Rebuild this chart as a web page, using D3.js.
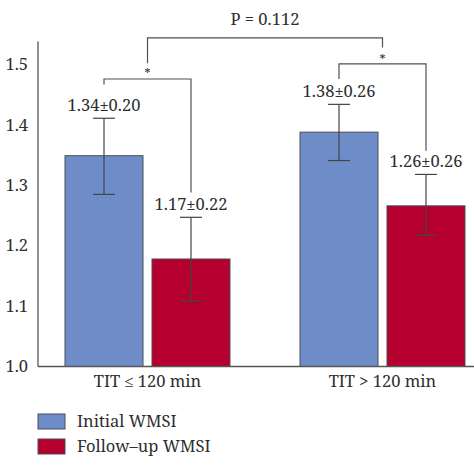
<!DOCTYPE html>
<html><head><meta charset="utf-8">
<script src="https://cdn.jsdelivr.net/npm/d3@7"></script>
<style>
html,body{margin:0;padding:0;background:#fff;}
svg{display:block;}
</style></head>
<body>
<script>
// ---- data ----
const categories = ["TIT \u2264 120 min", "TIT > 120 min"];
const series = ["Initial WMSI", "Follow\u2013up WMSI"];
const colors = ["#6e8dc8", "#b5002f"];
const initialValues = [1.349, 1.388];
const followValues = [1.178, 1.266];
const initialErrLow = [1.285, 1.341];
const initialErrHigh = [1.411, 1.434];
const followErrLow = [1.109, 1.217];
const followErrHigh = [1.247, 1.318];
const initialLabels = ["1.34\u00b10.20", "1.38\u00b10.26"];
const followLabels = ["1.17\u00b10.22", "1.26\u00b10.26"];
const yTicks = [1.0, 1.1, 1.2, 1.3, 1.4, 1.5];
const yTickLabels = ["1.0", "1.1", "1.2", "1.3", "1.4", "1.5"];
const yAxisTop = 1.538;
// significance brackets (values on the y scale)
const innerLevel = [1.476, 1.501];
const innerLeftEnd = [1.467, 1.476];
const innerRightEnd = [1.288, 1.357];
const innerStar = [1.490, 1.513];
const outerLevel = 1.544;
const outerEnds = [1.502, 1.528];
const outerLabel = "P = 0.112";
const outerLabelLevel = 1.566;

const FONT = '"Noto Serif","Liberation Serif","DejaVu Serif",serif';
const FS = "16.5px";
const TXT = "#2e2e2e";

const W = 474, H = 474;
const svg = d3.select("body").append("svg").attr("width", W).attr("height", H)
  .style("font-family", FONT);

const y = d3.scaleLinear().domain([1.0, 1.5]).range([366.5, 64.5]);
const x0 = d3.scaleBand().domain(categories).range([30, 500]).paddingInner(0.298).paddingOuter(0.149);
const x1 = d3.scaleBand().domain(series).range([0, x0.bandwidth()]).paddingInner(0.1034);

const axisX = 38;
const lineCol = "#505050";

function label(sel) {
  return sel.style("font-family", FONT).style("font-size", FS).attr("fill", TXT);
}

// y axis
svg.append("line").attr("x1", axisX).attr("x2", axisX).attr("y1", y(1.0)).attr("y2", y(yAxisTop))
  .attr("stroke", "#555").attr("stroke-width", 1.3);
const yAxis = d3.axisLeft(y).tickValues(yTicks).tickFormat((d, i) => yTickLabels[i]).tickSize(0).tickPadding(10);
const gy = svg.append("g").attr("transform", `translate(${axisX},0)`).call(yAxis);
gy.attr("font-family", null).attr("font-size", null);
gy.select(".domain").remove();
label(gy.selectAll("text"));

const seriesData = [
  {vals: initialValues, lo: initialErrLow, hi: initialErrHigh, labels: initialLabels},
  {vals: followValues, lo: followErrLow, hi: followErrHigh, labels: followLabels}
];

// bars
categories.forEach((c, ci) => {
  series.forEach((s, si) => {
    const d = seriesData[si];
    const bx = x0(c) + x1(s);
    svg.append("rect").attr("x", bx).attr("width", x1.bandwidth())
      .attr("y", y(d.vals[ci])).attr("height", y(1.0) - y(d.vals[ci]))
      .attr("fill", colors[si]).attr("stroke", "#4d4d55").attr("stroke-width", 1);
  });
});

// x baseline
svg.append("line").attr("x1", axisX).attr("x2", W).attr("y1", y(1.0)).attr("y2", y(1.0))
  .attr("stroke", "#555").attr("stroke-width", 1.3);

// error bars and labels
const capW = 11;
categories.forEach((c, ci) => {
  series.forEach((s, si) => {
    const d = seriesData[si];
    const cx = x0(c) + x1(s) + x1.bandwidth() / 2;
    const g = svg.append("g").attr("stroke", "#444").attr("stroke-width", 1.2);
    g.append("line").attr("x1", cx).attr("x2", cx).attr("y1", y(d.lo[ci])).attr("y2", y(d.hi[ci]));
    g.append("line").attr("x1", cx - capW).attr("x2", cx + capW).attr("y1", y(d.lo[ci])).attr("y2", y(d.lo[ci]));
    g.append("line").attr("x1", cx - capW).attr("x2", cx + capW).attr("y1", y(d.hi[ci])).attr("y2", y(d.hi[ci]));
    label(svg.append("text").attr("x", cx).attr("y", y(d.hi[ci]) - 7).attr("text-anchor", "middle"))
      .text(d.labels[ci]);
  });
});

// inner brackets
categories.forEach((c, ci) => {
  const xa = x0(c) + x1(series[0]) + x1.bandwidth() / 2;
  const xb = x0(c) + x1(series[1]) + x1.bandwidth() / 2;
  const path = d3.path();
  path.moveTo(xa, y(innerLeftEnd[ci]));
  path.lineTo(xa, y(innerLevel[ci]));
  path.lineTo(xb, y(innerLevel[ci]));
  path.lineTo(xb, y(innerRightEnd[ci]));
  svg.append("path").attr("d", path.toString()).attr("fill", "none").attr("stroke", lineCol).attr("stroke-width", 1.2);
  svg.append("text").attr("x", x0(c) + x0.bandwidth() / 2).attr("y", y(innerStar[ci]) + 7)
    .attr("text-anchor", "middle").style("font-family", FONT).style("font-size", "12px").attr("fill", TXT).text("*");
});

// outer bracket
{
  const xa = x0(categories[0]) + x0.bandwidth() / 2;
  const xb = x0(categories[1]) + x0.bandwidth() / 2;
  const path = d3.path();
  path.moveTo(xa, y(outerEnds[0]));
  path.lineTo(xa, y(outerLevel));
  path.lineTo(xb, y(outerLevel));
  path.lineTo(xb, y(outerEnds[1]));
  svg.append("path").attr("d", path.toString()).attr("fill", "none").attr("stroke", lineCol).attr("stroke-width", 1.2);
  label(svg.append("text").attr("x", (xa + xb) / 2).attr("y", y(outerLabelLevel)).attr("text-anchor", "middle"))
    .text(outerLabel);
}

// category labels
categories.forEach(c => {
  label(svg.append("text").attr("x", x0(c) + x0.bandwidth() / 2).attr("y", y(1.0) + 20.5)
    .attr("text-anchor", "middle")).text(c);
});

// legend
series.forEach((s, i) => {
  const ly = 414 + i * 25;
  svg.append("rect").attr("x", 38).attr("y", ly).attr("width", 27).attr("height", 15)
    .attr("fill", colors[i]).attr("stroke", "#4d4d55").attr("stroke-width", 1);
  label(svg.append("text").attr("x", 77).attr("y", ly + 12.5)).text(s);
});
</script>
</body></html>
